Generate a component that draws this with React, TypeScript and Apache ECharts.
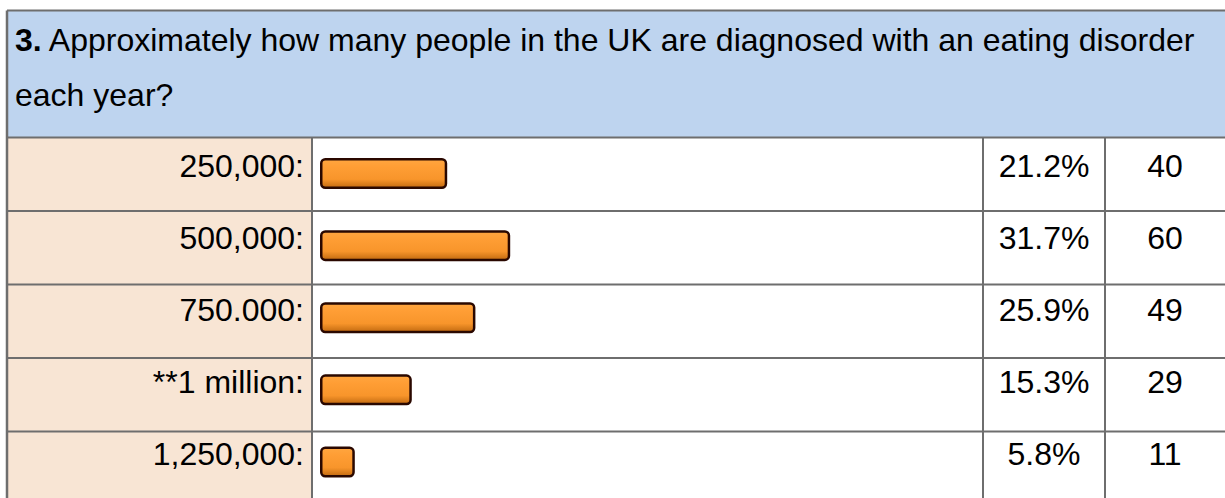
import React, { useEffect, useRef } from "react";
import * as echarts from "echarts";

const categories = ["250,000:", "500,000:", "750.000:", "**1 million:", "1,250,000:"];
const percents = [21.2, 31.7, 25.9, 15.3, 5.8];
const counts = [40, 60, 49, 29, 11];
const questionNumber = "3.";
const questionText =
  "Approximately how many people in the UK are diagnosed with an eating disorder\neach year?";

const FONT = "'Liberation Sans', Arial, sans-serif";

export default function App() {
  const ref = useRef<HTMLDivElement>(null);
  useEffect(() => {
    if (!ref.current) return;
    const chart = echarts.init(ref.current, undefined, { renderer: "svg" });

    const W = 1225;
    const left = 7;
    const top = 10.5;
    const headerBottom = 137.5;
    const band = 73.5;
    const colLabel = 312;
    const colPct = 983;
    const colCount = 1105;
    const gridLeft = 320;
    const gridWidth = 600;
    const lineColor = "#6e6e6e";

    const graphics: any[] = [];
    graphics.push({
      type: "rect",
      shape: { x: left, y: top, width: W - left, height: headerBottom - top },
      style: { fill: "#BED4EF" },
      z: 0,
    });
    graphics.push({
      type: "rect",
      shape: { x: left, y: headerBottom, width: colLabel - left, height: 498 - headerBottom },
      style: { fill: "#F8E5D4" },
      z: 0,
    });
    const hLines = [top, headerBottom];
    for (let i = 1; i < categories.length; i++) hLines.push(headerBottom + i * band);
    hLines.forEach((y) =>
      graphics.push({
        type: "line",
        shape: { x1: left, y1: y, x2: W, y2: y },
        style: { stroke: lineColor, lineWidth: 2 },
        z: 1,
      })
    );
    graphics.push({
      type: "line",
      shape: { x1: left, y1: top, x2: left, y2: 498 },
      style: { stroke: lineColor, lineWidth: 2.5 },
      z: 1,
    });
    [colLabel, colPct, colCount].forEach((x) =>
      graphics.push({
        type: "line",
        shape: { x1: x, y1: headerBottom, x2: x, y2: 498 },
        style: { stroke: lineColor, lineWidth: 2 },
        z: 1,
      })
    );

    const labelCommon = {
      fontFamily: FONT,
      fontSize: 32,
      color: "#000",
      verticalAlign: "bottom",
      lineHeight: 15,
    };

    const option: any = {
      animation: false,
      title: {
        left: 15,
        top: 12,
        padding: 0,
        text: `{b|${questionNumber}} ${questionText}`,
        textStyle: {
          fontFamily: FONT,
          fontSize: 32,
          fontWeight: "normal",
          color: "#000",
          lineHeight: 55,
          rich: {
            b: { fontFamily: FONT, fontSize: 32, fontWeight: "bold", color: "#000", lineHeight: 55 },
          },
        },
      },
      graphic: graphics,
      grid: { left: gridLeft, top: headerBottom, width: gridWidth, height: band * categories.length },
      xAxis: {
        type: "value",
        min: 0,
        max: 100,
        show: false,
      },
      yAxis: [
        {
          type: "category",
          inverse: true,
          data: categories,
          position: "left",
          axisLine: { show: false },
          axisTick: { show: false },
          axisLabel: { ...labelCommon, margin: 16, align: "right" },
        },
        {
          type: "category",
          inverse: true,
          data: percents.map((p) => p.toFixed(1) + "%"),
          position: "right",
          axisLine: { show: false },
          axisTick: { show: false },
          axisLabel: { ...labelCommon, margin: (colPct + colCount) / 2 - (gridLeft + gridWidth), align: "center" },
        },
        {
          type: "category",
          inverse: true,
          data: counts.map(String),
          position: "right",
          offset: 0,
          axisLine: { show: false },
          axisTick: { show: false },
          axisLabel: { ...labelCommon, margin: (colCount + W) / 2 - (gridLeft + gridWidth), align: "center" },
        },
      ],
      series: [
        {
          type: "bar",
          data: percents,
          yAxisIndex: 0,
          barWidth: 31,
          itemStyle: {
            borderRadius: 4,
            borderColor: "#2a0800",
            borderWidth: 2.5,
            color: new echarts.graphic.LinearGradient(0, 0, 0, 1, [
              { offset: 0, color: "#FFA640" },
              { offset: 0.25, color: "#FF9E35" },
              { offset: 0.7, color: "#F8952B" },
              { offset: 1, color: "#C26A10" },
            ]),
          },
        },
      ],
    };
    chart.setOption(option);
    return () => chart.dispose();
  }, []);

  return (
    <div
      ref={ref}
      style={{ position: "absolute", left: 0, top: 0, width: 1225, height: 498, background: "#fff" }}
    />
  );
}
